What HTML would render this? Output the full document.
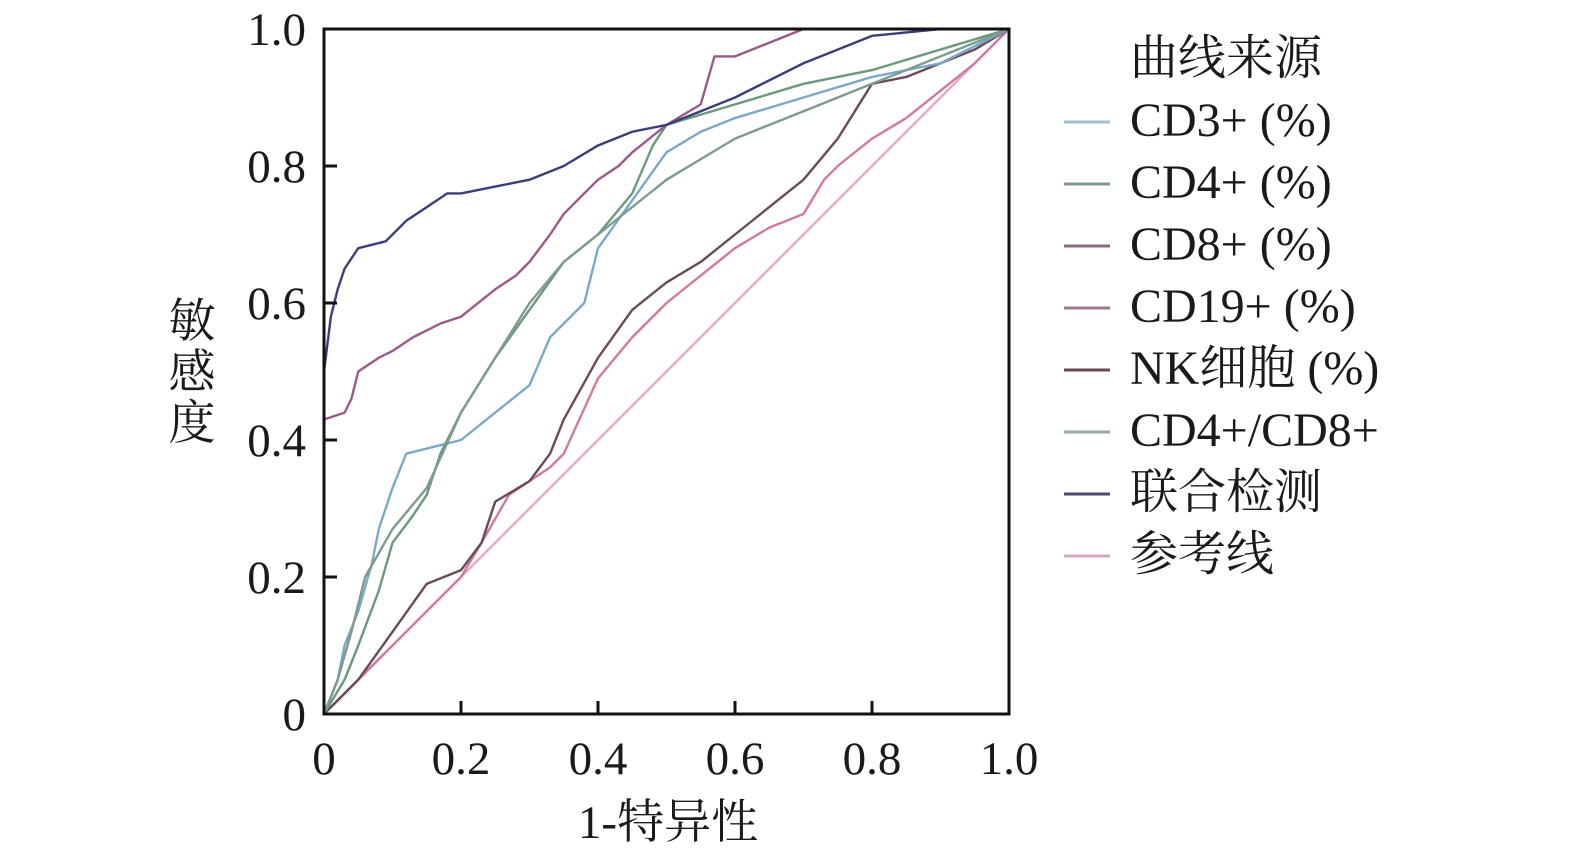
<!DOCTYPE html>
<html><head><meta charset="utf-8"><style>
body{margin:0;background:#fff;}
svg text{font-family:"Liberation Serif","Noto Serif CJK SC",serif;fill:#1a1a1a;}
</style></head><body>
<svg width="1575" height="859" viewBox="0 0 1575 859" xmlns="http://www.w3.org/2000/svg">
<g transform="translate(324,714) scale(685,-685)" fill="none" stroke-width="0.0035" stroke-linejoin="round">
<polyline stroke="#e4a8c6" points="0,0 1,1"/>
<polyline stroke="#d07aa0" points="0,0 0.05,0.05 0.1,0.1 0.15,0.15 0.2,0.2 0.23,0.25 0.27,0.32 0.3,0.34 0.33,0.36 0.35,0.38 0.4,0.49 0.45,0.55 0.5,0.6 0.55,0.64 0.6,0.68 0.65,0.71 0.7,0.73 0.73,0.78 0.75,0.8 0.8,0.84 0.85,0.87 0.9,0.91 0.95,0.95 1,1"/>
<polyline stroke="#6a4a5a" points="0,0 0.05,0.05 0.1,0.12 0.15,0.19 0.2,0.21 0.23,0.25 0.25,0.31 0.3,0.34 0.33,0.38 0.35,0.43 0.4,0.52 0.45,0.59 0.5,0.63 0.55,0.66 0.6,0.7 0.65,0.74 0.7,0.78 0.75,0.84 0.8,0.92 0.85,0.93 0.9,0.95 0.95,0.97 1,1"/>
<polyline stroke="#7aa9c8" points="0,0 0.02,0.05 0.03,0.1 0.05,0.15 0.07,0.22 0.08,0.27 0.1,0.33 0.12,0.38 0.2,0.40 0.25,0.44 0.3,0.48 0.33,0.55 0.38,0.60 0.4,0.68 0.45,0.75 0.5,0.82 0.55,0.85 0.6,0.87 0.7,0.9 0.8,0.93 0.9,0.95 1,1"/>
<polyline stroke="#6a9a7a" points="0,0 0.03,0.05 0.05,0.1 0.08,0.18 0.1,0.25 0.13,0.29 0.15,0.32 0.17,0.38 0.2,0.44 0.25,0.52 0.3,0.59 0.35,0.66 0.4,0.7 0.45,0.76 0.48,0.83 0.5,0.86 0.6,0.89 0.7,0.92 0.8,0.94 0.9,0.97 1,1"/>
<polyline stroke="#7f9a8f" points="0,0 0.02,0.05 0.04,0.12 0.06,0.2 0.1,0.27 0.15,0.33 0.2,0.44 0.25,0.52 0.3,0.6 0.35,0.66 0.4,0.7 0.45,0.74 0.5,0.78 0.6,0.84 0.7,0.88 0.8,0.92 0.9,0.96 1,1"/>
<polyline stroke="#9a5a8a" points="0,0 0,0.43 0.03,0.44 0.04,0.46 0.05,0.5 0.08,0.52 0.1,0.53 0.13,0.55 0.17,0.57 0.2,0.58 0.25,0.62 0.28,0.64 0.3,0.66 0.33,0.7 0.35,0.73 0.38,0.76 0.4,0.78 0.43,0.8 0.45,0.82 0.5,0.86 0.55,0.89 0.57,0.96 0.6,0.96 0.65,0.98 0.7,1 1,1"/>
<polyline stroke="#3a3f7a" points="0,0 0,0.35 0,0.5 0.01,0.58 0.02,0.62 0.03,0.65 0.05,0.68 0.09,0.69 0.12,0.72 0.15,0.74 0.18,0.76 0.2,0.76 0.25,0.77 0.3,0.78 0.35,0.8 0.4,0.83 0.45,0.85 0.5,0.86 0.55,0.88 0.6,0.9 0.7,0.95 0.8,0.99 0.9,1 1,1"/>
</g>
<rect x="324" y="29" width="685" height="685" fill="none" stroke="#111" stroke-width="3"/>
<g stroke="#111" stroke-width="3">
<line x1="324" y1="577" x2="337" y2="577"/><line x1="324" y1="440" x2="337" y2="440"/><line x1="324" y1="303" x2="337" y2="303"/><line x1="324" y1="166" x2="337" y2="166"/>
<line x1="461" y1="714" x2="461" y2="701"/><line x1="598" y1="714" x2="598" y2="701"/><line x1="735" y1="714" x2="735" y2="701"/><line x1="872" y1="714" x2="872" y2="701"/>
</g>
<g font-size="47" text-anchor="end">
<text x="306" y="45">1.0</text><text x="306" y="182">0.8</text><text x="306" y="319">0.6</text><text x="306" y="456">0.4</text><text x="306" y="593">0.2</text><text x="306" y="730">0</text>
</g>
<g font-size="47" text-anchor="middle">
<text x="324" y="774">0</text><text x="461" y="774">0.2</text><text x="598" y="774">0.4</text><text x="735" y="774">0.6</text><text x="872" y="774">0.8</text><text x="1009" y="774">1.0</text>
<text x="668" y="838">1-特异性</text>
<text x="192" y="337">敏</text><text x="192" y="388">感</text><text x="192" y="439">度</text>
</g>
<g font-size="48">
<text x="1130" y="74">曲线来源</text>
<text x="1130" y="136">CD3+ (%)</text>
<text x="1130" y="198">CD4+ (%)</text>
<text x="1130" y="260">CD8+ (%)</text>
<text x="1130" y="322">CD19+ (%)</text>
<text x="1130" y="384">NK细胞 (%)</text>
<text x="1130" y="446">CD4+/CD8+</text>
<text x="1130" y="508">联合检测</text>
<text x="1130" y="570">参考线</text>
</g>
<g stroke-width="3">
<line x1="1064" y1="122" x2="1110" y2="122" stroke="#9cc2d6"/>
<line x1="1064" y1="184" x2="1110" y2="184" stroke="#7f9a90"/>
<line x1="1064" y1="246" x2="1110" y2="246" stroke="#8a6a80"/>
<line x1="1064" y1="308" x2="1110" y2="308" stroke="#a07890"/>
<line x1="1064" y1="370" x2="1110" y2="370" stroke="#6a4a5a"/>
<line x1="1064" y1="432" x2="1110" y2="432" stroke="#98aaa2"/>
<line x1="1064" y1="494" x2="1110" y2="494" stroke="#4a4a70"/>
<line x1="1064" y1="556" x2="1110" y2="556" stroke="#d8a8bc"/>
</g>
</svg>
</body></html>
